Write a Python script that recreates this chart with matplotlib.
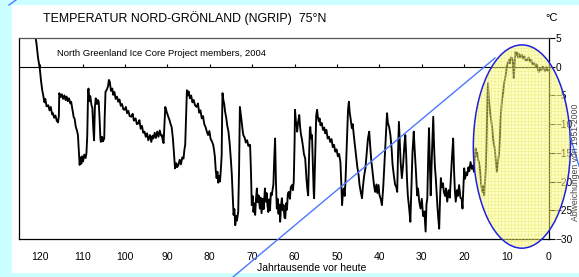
import matplotlib.pyplot as plt
import numpy as np
from matplotlib.patches import Ellipse, Rectangle
from matplotlib.lines import Line2D

# NGRIP temperature anomaly (kyr BP, deg C)
age_kyr = [
    121.3, 120.9, 120.5, 120.1, 119.8, 119.5, 119.3, 119.0, 118.8, 118.5, 118.1, 117.8, 117.5, 117.2, 117.0,
    116.7, 116.4, 116.1, 115.8, 115.6, 115.5, 115.2, 114.9, 114.6, 114.3, 114.0, 113.8, 113.5, 113.2, 112.9,
    112.7, 112.4, 112.1, 111.9, 111.6, 111.3, 111.1, 110.9, 110.7, 110.5, 110.3, 110.1, 109.9, 109.6, 109.3,
    109.1, 108.9, 108.7, 108.6, 108.4, 108.2, 107.9, 107.7, 107.5, 107.3, 107.1, 106.9, 106.6, 106.4, 106.2,
    106.0, 105.8, 105.7, 105.4, 105.2, 104.9, 104.8, 104.6, 104.3, 104.0, 103.8, 103.6, 103.3, 103.0, 102.8,
    102.5, 102.2, 101.9, 101.6, 101.3, 101.0, 100.7, 100.4, 100.1, 99.8, 99.5, 99.2, 98.9, 98.5, 98.2,
    97.9, 97.5, 97.2, 96.9, 96.6, 96.3, 96.0, 95.7, 95.4, 95.1, 94.8, 94.5, 94.1, 93.8, 93.5,
    93.3, 93.0, 92.7, 92.4, 92.1, 91.8, 91.5, 91.3, 91.1, 90.9, 90.7, 90.5, 90.2, 89.8, 89.5,
    89.2, 89.0, 88.7, 88.4, 88.2, 87.9, 87.7, 87.4, 87.1, 86.8, 86.5, 86.2, 86.0, 85.8, 85.6,
    85.4, 85.2, 85.0, 84.7, 84.4, 84.1, 83.8, 83.5, 83.1, 82.8, 82.5, 82.2, 81.9, 81.6, 81.3,
    81.0, 80.7, 80.4, 80.1, 79.8, 79.5, 79.2, 79.0, 78.8, 78.6, 78.4, 78.2, 78.0, 77.8, 77.6,
    77.4, 77.2, 77.1, 77.0, 76.8, 76.6, 76.4, 76.1, 75.9, 75.6, 75.3, 75.0, 74.8, 74.6, 74.4,
    74.2, 74.0, 73.8, 73.6, 73.3, 73.1, 72.9, 72.7, 72.5, 72.3, 72.1, 71.8, 71.5, 71.2, 70.9,
    70.7, 70.5, 70.3, 70.1, 69.9, 69.7, 69.5, 69.3, 69.1, 68.9, 68.7, 68.5, 68.2, 68.0, 67.8,
    67.5, 67.3, 67.0, 66.8, 66.6, 66.4, 66.2, 66.0, 65.8, 65.6, 65.4, 65.0, 64.8, 64.6, 64.4,
    64.2, 64.0, 63.8, 63.6, 63.4, 63.2, 63.0, 62.8, 62.6, 62.4, 62.2, 62.0, 61.8, 61.6, 61.4,
    61.1, 60.9, 60.6, 60.4, 60.2, 60.0, 59.9, 59.7, 59.5, 59.4, 59.2, 58.9, 58.7, 58.5, 58.3,
    58.0, 57.8, 57.5, 57.2, 57.0, 56.8, 56.6, 56.4, 56.3, 56.1, 55.9, 55.7, 55.5, 55.4, 55.1,
    54.9, 54.7, 54.5, 54.3, 54.1, 53.9, 53.6, 53.3, 53.0, 52.8, 52.5, 52.2, 51.9, 51.6, 51.3,
    51.0, 50.7, 50.4, 50.1, 49.8, 49.5, 49.2, 49.0, 48.8, 48.6, 48.4, 48.2, 48.0, 47.7, 47.4,
    47.2, 47.0, 46.8, 46.5, 46.3, 46.0, 45.7, 45.5, 45.2, 44.9, 44.7, 44.4, 44.1, 43.9, 43.6,
    43.3, 43.0, 42.7, 42.4, 42.2, 41.9, 41.7, 41.4, 41.2, 41.0, 40.7, 40.5, 40.2, 40.0, 39.7,
    39.4, 39.1, 38.8, 38.5, 38.2, 38.0, 37.7, 37.4, 37.1, 36.9, 36.6, 36.3, 36.0, 35.8, 35.6,
    35.4, 35.2, 35.0, 34.7, 34.4, 34.1, 33.9, 33.7, 33.5, 33.3, 33.0, 32.7, 32.5, 32.2, 31.9,
    31.7, 31.4, 31.1, 30.9, 30.6, 30.3, 30.0, 29.7, 29.4, 29.1, 28.9, 28.7, 28.5, 28.3, 28.1,
    27.9, 27.6, 27.3, 27.1, 26.9, 26.7, 26.5, 26.3, 26.1, 25.9, 25.7, 25.5, 25.3, 25.0, 24.8,
    24.5, 24.3, 24.0, 23.7, 23.4, 23.2, 22.9, 22.6, 22.4, 22.2, 22.0, 21.7, 21.5, 21.2, 20.9,
    20.6, 20.4, 20.2, 20.0, 19.8, 19.5, 19.3, 19.0, 18.8, 18.5, 18.2, 17.9, 17.7, 17.5, 17.3,
    17.1, 16.9, 16.7, 16.5, 16.2, 16.0, 15.7, 15.5, 15.3, 15.1, 14.9, 14.7, 14.5, 14.4, 14.2,
    14.0, 13.9, 13.6, 13.4, 13.2, 13.0, 12.8, 12.6, 12.4, 12.3, 12.1, 11.9, 11.8, 11.6, 11.4,
    11.3, 11.1, 10.9, 10.8, 10.6, 10.4, 10.2, 10.0, 9.8, 9.6, 9.4, 9.2, 9.0, 8.7, 8.5,
    8.3, 8.1, 7.9, 7.7, 7.5, 7.2, 7.0, 6.7, 6.4, 6.1, 5.8, 5.5, 5.1, 4.8, 4.5,
    4.2, 3.9, 3.5, 3.2, 2.9, 2.6, 2.4, 2.1, 1.8, 1.5, 1.2, 0.9, 0.6, 0.3, 0.0,
]
temp_c = [
    6.0, 4.2, 1.5, -0.3, -2.5, -4.2, -4.9, -6.2, -5.6, -6.9, -6.7, -7.6, -7.0, -8.3, -8.1,
    -8.9, -8.5, -9.4, -9.7, -8.6, -4.6, -5.3, -4.8, -5.6, -5.0, -5.8, -5.2, -6.0, -5.5, -6.4,
    -6.1, -7.5, -8.8, -9.0, -10.5, -11.2, -11.9, -14.5, -17.1, -15.8, -16.9, -15.6, -16.5, -15.3, -15.9,
    -15.1, -12.0, -4.2, -3.8, -6.0, -5.1, -6.7, -7.2, -10.5, -12.8, -7.0, -5.5, -6.5, -5.8, -6.1,
    -9.0, -12.5, -13.1, -12.2, -13.0, -12.5, -9.0, -4.4, -4.0, -3.4, -2.3, -2.6, -4.2, -3.8, -4.9,
    -4.4, -5.6, -5.2, -6.1, -5.7, -6.8, -6.5, -7.4, -7.5, -7.0, -8.1, -7.7, -8.6, -8.7, -8.2,
    -9.4, -9.0, -10.0, -9.9, -9.3, -10.8, -10.3, -11.5, -11.3, -12.2, -11.6, -12.8, -11.9, -13.1, -12.0,
    -12.5, -11.5, -12.4, -11.3, -12.2, -11.1, -12.0, -11.9, -12.8, -13.3, -10.0, -7.0, -7.8, -8.7, -9.3,
    -10.1, -10.5, -12.5, -15.5, -17.7, -16.8, -17.5, -17.1, -16.2, -17.0, -15.8, -16.0, -14.5, -13.6, -9.0,
    -4.1, -5.0, -4.3, -5.5, -5.0, -6.2, -5.8, -6.7, -7.0, -6.4, -8.0, -7.6, -9.0, -8.6, -10.0,
    -10.5, -11.3, -11.9, -11.2, -12.6, -13.0, -13.6, -14.5, -15.7, -18.0, -19.4, -18.3, -20.2, -19.0, -20.0,
    -18.0, -15.4, -9.0, -4.6, -5.8, -6.5, -7.8, -9.0, -10.2, -11.3, -13.5, -16.5, -18.9, -22.5, -25.8,
    -24.8, -27.6, -26.0, -26.8, -25.3, -18.0, -7.0, -8.2, -9.5, -10.8, -11.9, -12.3, -13.2, -12.8, -13.8,
    -13.6, -13.6, -18.0, -24.1, -22.5, -25.3, -23.8, -25.8, -23.0, -21.2, -23.6, -22.4, -24.7, -22.8, -25.5,
    -23.0, -24.8, -21.2, -23.5, -22.0, -24.2, -25.3, -23.1, -25.0, -22.0, -22.4, -20.5, -16.0, -12.5, -20.0,
    -24.7, -23.0, -25.6, -24.0, -27.0, -24.2, -22.9, -25.0, -24.1, -26.2, -26.4, -23.8, -24.9, -22.2, -21.8,
    -23.0, -21.0, -20.6, -21.5, -20.0, -13.0, -7.5, -9.5, -10.2, -11.3, -9.8, -8.4, -10.5, -11.8, -12.5,
    -14.0, -15.2, -16.0, -19.5, -21.3, -22.4, -16.0, -11.0, -10.5, -12.5, -11.9, -17.0, -21.8, -22.9, -14.0,
    -8.5, -7.5, -8.8, -9.5, -9.0, -10.2, -9.8, -11.0, -10.6, -11.6, -11.0, -12.5, -12.2, -13.1, -12.6,
    -14.0, -13.6, -14.8, -14.4, -15.6, -15.2, -16.6, -20.0, -24.1, -22.0, -21.2, -22.5, -20.0, -14.0, -7.5,
    -6.1, -8.0, -9.0, -10.7, -10.0, -12.2, -14.2, -15.5, -17.5, -18.9, -20.5, -21.8, -22.9, -21.0, -19.0,
    -17.7, -15.0, -12.5, -11.3, -13.5, -16.5, -17.7, -19.8, -21.0, -21.8, -20.5, -22.0, -20.6, -22.3, -23.0,
    -24.1, -21.0, -16.6, -12.0, -8.1, -9.8, -10.5, -11.9, -14.5, -17.0, -18.9, -20.5, -21.0, -21.8, -15.0,
    -9.6, -13.0, -16.5, -19.4, -17.0, -13.5, -11.9, -15.0, -19.5, -22.4, -24.5, -27.0, -22.0, -15.0, -11.3,
    -14.2, -18.0, -22.4, -21.2, -23.5, -24.7, -23.0, -26.0, -25.2, -28.7, -24.0, -22.9, -16.0, -10.7, -17.0,
    -22.4, -15.0, -8.7, -14.0, -17.5, -19.4, -22.0, -24.5, -26.5, -28.2, -23.0, -19.4, -21.0, -20.3, -21.8,
    -22.5, -21.2, -23.5, -21.5, -22.8, -20.0, -16.0, -12.5, -18.0, -21.5, -23.5, -21.5, -22.5, -20.6, -22.8,
    -23.0, -24.7, -21.0, -17.7, -19.5, -18.4, -18.9, -17.5, -18.2, -16.6, -17.8, -17.2, -18.3, -16.0, -14.2,
    -15.5, -15.0, -16.2, -16.6, -18.5, -20.5, -21.8, -20.8, -22.4, -20.0, -17.7, -12.0, -5.0, -2.9, -5.5,
    -7.0, -7.8, -9.5, -10.7, -12.5, -13.5, -14.2, -16.0, -17.5, -18.3, -17.0, -15.8, -15.4, -12.5, -9.0,
    -7.8, -6.0, -4.8, -4.4, -3.0, -2.2, -1.4, -0.2, 0.5, 0.8, 1.2, 0.6, 1.6, 1.5, 0.8,
    -2.0, 0.5, 2.6, 2.0, 2.4, 1.6, 2.2, 1.7, 2.1, 1.4, 1.8, 1.1, 1.2, 1.6, 0.9,
    1.2, 0.4, 0.6, 0.1, 0.4, -0.5, -0.9, -0.2, -0.6, 0.0, -0.3, -0.8, -0.1, -0.7, -0.6,
]

xticks = [120, 110, 100, 90, 80, 70, 60, 50, 40, 30, 20, 10, 0]
yticks = [5, 0, -5, -10, -15, -20, -25, -30]

plt.rcParams['font.family'] = ['Liberation Sans', 'DejaVu Sans']
plt.rcParams['hatch.linewidth'] = 0.5

W, H = 579, 277
fig = plt.figure(figsize=(W / 100, H / 100), dpi=100)
fig.patch.set_facecolor('#ccffff')
fig.patches.append(Rectangle((12 / W, 1 - 273 / H), 1 - 12 / W, (273 - 5) / H,
                             transform=fig.transFigure, facecolor='white', edgecolor='none', zorder=-5))

ax = fig.add_axes([19 / W, 1 - 239 / H, (549 - 19) / W, (239 - 38) / H])
ax.set_zorder(2)
ax.set_facecolor('none')
ax.plot(age_kyr, temp_c, color='black', lw=1.35, zorder=2)
ax.set_xlim(125, 0)
ax.set_ylim(-30, 5)

ax.axhline(0, color='black', lw=0.8, zorder=1)
ax.vlines(xticks, 0, 0.4, color='black', lw=0.8, zorder=1)

ax.set_xticks(xticks)
ax.tick_params(axis='x', length=0, pad=9, labelsize=7.5)
ax.yaxis.tick_right()
ax.set_yticks(yticks)
ax.tick_params(axis='y', direction='out', length=4, width=0.8, pad=1, labelsize=7.3)
for s in ax.spines.values():
    s.set_linewidth(0.9)
ax.spines['top'].set_color('#555555')

# highlighted Holocene ellipse
ell_fill = Ellipse((6.4, -13.9), 22.9, 35.4, facecolor=(1, 1, 0.5, 0.45), edgecolor=(0.9, 0.9, 0.4, 0.6),
                   lw=0, hatch='+++++', clip_on=False, zorder=3)
ell_edge = Ellipse((6.4, -13.9), 22.9, 35.4, facecolor='none', edgecolor='#2020e0',
                   lw=1.1, clip_on=False, zorder=4)
ax.add_patch(ell_fill)
ax.add_patch(ell_edge)

# connecting lines to other panels
for (x0, y0), (x1, y1) in [((233, 277), (495, 58)), ((9, 5), (16, 0)), ((570, 136), (579, 166))]:
    ax.add_line(Line2D([x0 / W, x1 / W], [1 - y0 / H, 1 - y1 / H], transform=fig.transFigure,
                       color='#4a78ff', lw=1.0, zorder=5, clip_on=False))

fig.text(43 / W, 1 - 18 / H, 'TEMPERATUR NORD-GRÖNLAND (NGRIP)  75°N', fontsize=8.9, va='center')
fig.text(545 / W, 1 - 18 / H, '°C', fontsize=8, va='center')
fig.text(57 / W, 1 - 53 / H, 'North Greenland Ice Core Project members, 2004', fontsize=6.8,
         va='center', zorder=3)
fig.text(312 / W, 1 - 268 / H, 'Jahrtausende vor heute', fontsize=7.5, ha='center', va='center')
fig.text(571.5 / W, 1 - 162 / H, 'Abweichungen von 1951-2000', fontsize=6.2, rotation=90,
         ha='left', va='center', color='#444444')

fig.savefig('out.png', dpi=100, facecolor=fig.get_facecolor())
